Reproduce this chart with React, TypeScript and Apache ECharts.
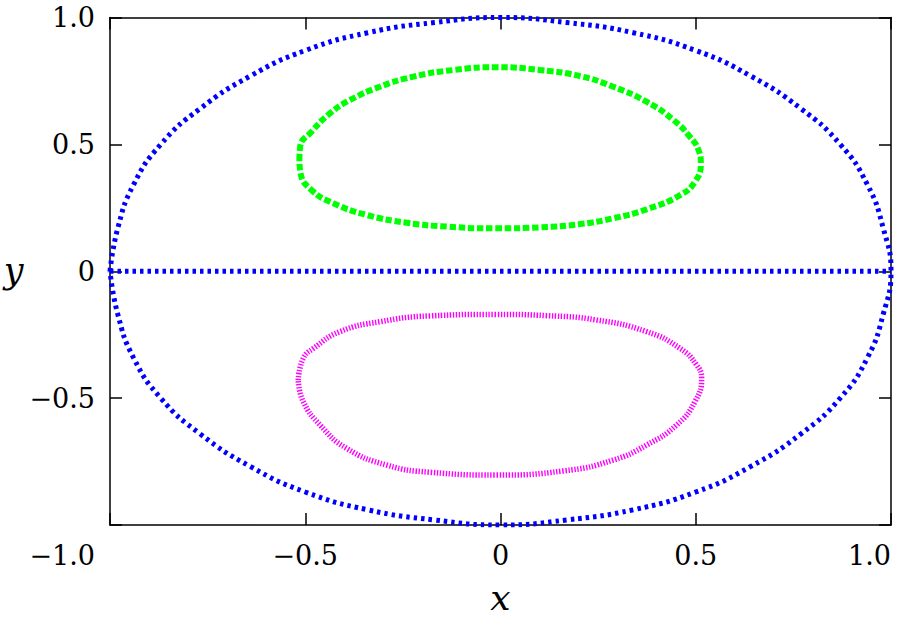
import React, { useEffect, useRef } from "react";
import * as echarts from "echarts";

// Tick labels
const xTickValues = [-1, -0.5, 0, 0.5, 1];
const xTickLabels = ["\u22121.0", "\u22120.5", "0", "0.5", "1.0"];
const yTickValues = [-1, -0.5, 0, 0.5, 1];
const yTickLabels = ["", "\u22120.5", "0", "0.5", "1.0"];

// Blue outer boundary
const blueOuterX = [-1, -0.98, -0.94, -0.87, -0.77, -0.64, -0.5, -0.34, -0.17, 0, 0.17, 0.34, 0.5, 0.64, 0.77, 0.87, 0.94, 0.98, 1, 0.98, 0.94, 0.87, 0.77, 0.64, 0.5, 0.34, 0.17, 0, -0.17, -0.34, -0.5, -0.64, -0.77, -0.87, -0.94, -0.98, -1];
const blueOuterY = [0, 0.17, 0.34, 0.5, 0.64, 0.77, 0.87, 0.94, 0.98, 1, 0.98, 0.94, 0.87, 0.77, 0.64, 0.5, 0.34, 0.17, 0, -0.17, -0.34, -0.5, -0.64, -0.77, -0.87, -0.94, -0.98, -1, -0.98, -0.94, -0.87, -0.77, -0.64, -0.5, -0.34, -0.17, 0];

// Blue horizontal segment
const blueAxisX = [-1, 1];
const blueAxisY = [0, 0];

// Green closed curve (upper)
const greenX = [-0.515, -0.513, -0.484, -0.437, -0.385, -0.309, -0.223, -0.121, -0.01, 0.101, 0.204, 0.289, 0.374, 0.443, 0.485, 0.507, 0.513, 0.498, 0.46, 0.374, 0.289, 0.204, 0.101, -0.01, -0.138, -0.24, -0.343, -0.428, -0.484, -0.512, -0.515];
const greenY = [0.438, 0.491, 0.55, 0.622, 0.675, 0.727, 0.767, 0.793, 0.804, 0.793, 0.769, 0.727, 0.668, 0.596, 0.53, 0.478, 0.425, 0.353, 0.3, 0.244, 0.209, 0.186, 0.173, 0.169, 0.176, 0.191, 0.222, 0.268, 0.32, 0.386, 0.438];

// Magenta closed curve (lower)
const magentaX = [-0.518, -0.505, -0.479, -0.411, -0.309, -0.181, -0.01, 0.118, 0.246, 0.374, 0.46, 0.502, 0.515, 0.498, 0.451, 0.374, 0.289, 0.161, -0.01, -0.181, -0.291, -0.394, -0.462, -0.505, -0.518];
const magentaY = [-0.429, -0.343, -0.304, -0.238, -0.199, -0.176, -0.17, -0.175, -0.192, -0.238, -0.304, -0.369, -0.422, -0.514, -0.606, -0.685, -0.744, -0.787, -0.803, -0.792, -0.764, -0.698, -0.606, -0.514, -0.429];

const zip = (xs: number[], ys: number[]) => xs.map((x, i) => [x, ys[i]]);

const FONT = "DejaVu Serif";

function labelFor(values: number[], labels: string[]) {
  return (v: number) => {
    const i = values.findIndex((t) => Math.abs(t - v) < 1e-9);
    return i >= 0 ? labels[i] : "";
  };
}

export default function App() {
  const ref = useRef<HTMLDivElement>(null);
  useEffect(() => {
    if (!ref.current) return;
    const chart = echarts.init(ref.current, null, { renderer: "svg" });
    const axisLine = { show: true, onZero: false, lineStyle: { color: "#000", width: 1.5 } };
    const axisTick = { show: true, inside: true, length: 12, lineStyle: { color: "#000", width: 1.5 } };
    const labelStyle = { color: "#000", fontFamily: FONT, fontSize: 27 };
    chart.setOption({
      animation: false,
      backgroundColor: "#fff",
      textStyle: { fontFamily: FONT },
      grid: { left: 110, top: 17.5, right: 17, bottom: 96, containLabel: false, outerBoundsMode: "none" },
      xAxis: [
        {
          type: "value", min: -1, max: 1, interval: 0.5, position: "bottom",
          axisLine, axisTick, splitLine: { show: false },
          axisLabel: {
            ...labelStyle, margin: 17,
            alignMinLabel: "right", alignMaxLabel: "right",
            formatter: (v: number) => {
              const s = labelFor(xTickValues, xTickLabels)(v);
              return v === -1 ? "{m|" + s + "}" : s;
            },
            rich: { m: { ...labelStyle, padding: [0, 15, 0, 0] } },
          },
          name: "x", nameLocation: "middle", nameGap: 54,
          nameTextStyle: { color: "#000", fontFamily: FONT, fontSize: 36, fontStyle: "italic" },
        },
        {
          type: "value", min: -1, max: 1, interval: 0.5, position: "top",
          axisLine, axisTick, axisLabel: { show: false }, splitLine: { show: false },
        },
      ],
      yAxis: [
        {
          type: "value", min: -1, max: 1, interval: 0.5, position: "left",
          axisLine, axisTick, splitLine: { show: false },
          axisLabel: { ...labelStyle, margin: 15, formatter: labelFor(yTickValues, yTickLabels) },
          name: "y", nameLocation: "middle", nameGap: 86, nameRotate: 0,
          nameTextStyle: { color: "#000", fontFamily: FONT, fontSize: 35, fontStyle: "italic" },
        },
        {
          type: "value", min: -1, max: 1, interval: 0.5, position: "right",
          axisLine, axisTick, axisLabel: { show: false }, splitLine: { show: false },
        },
      ],
      series: [
        {
          type: "line", data: zip(blueOuterX, blueOuterY), smooth: 0.5, symbol: "none",
          lineStyle: { color: "#0000ff", width: 5, type: [3.5, 4] },
        },
        {
          type: "line", data: zip(blueAxisX, blueAxisY), symbol: "none",
          lineStyle: { color: "#0000ff", width: 5, type: [3.5, 4] },
        },
        {
          type: "line", data: zip(greenX, greenY), smooth: 0.5, symbol: "none",
          lineStyle: { color: "#00ff00", width: 6, type: [6.5, 2.7] },
        },
        {
          type: "line", data: zip(magentaX, magentaY), smooth: 0.5, symbol: "none",
          lineStyle: { color: "#ff00ff", width: 5.5, type: [1.4, 1.6] },
        },
      ],
    });
    return () => chart.dispose();
  }, []);
  return <div ref={ref} style={{ position: "fixed", left: 0, top: 0, width: 908, height: 621 }} />;
}
